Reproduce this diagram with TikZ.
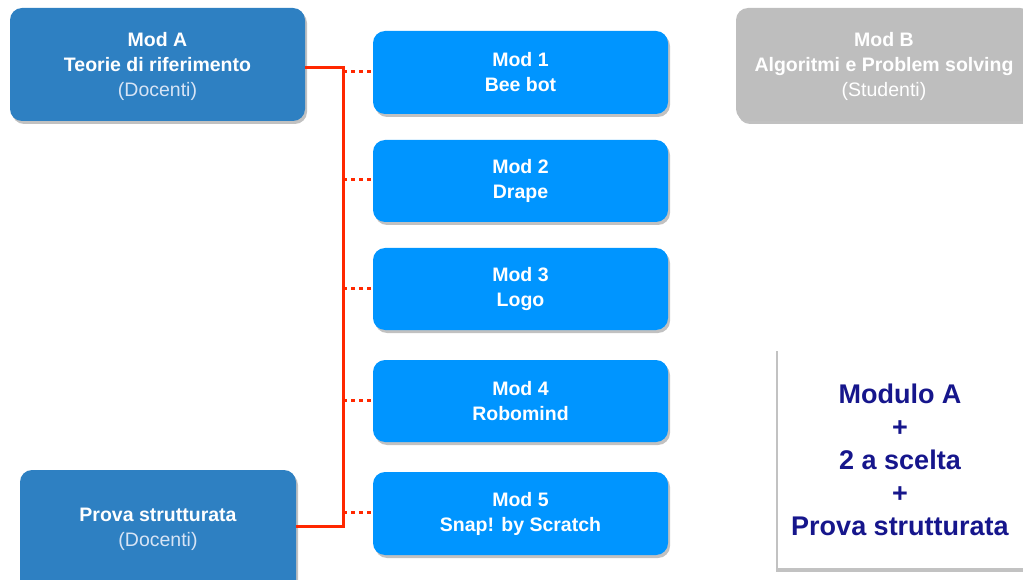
\documentclass[tikz,border=0pt]{standalone}
\usepackage{fontspec}
\setmainfont{Liberation Sans}
\usetikzlibrary{shadows}
\definecolor{modA}{RGB}{46,128,194}
\definecolor{modbright}{RGB}{0,149,255}
\definecolor{modgray}{RGB}{190,190,190}
\definecolor{conred}{RGB}{255,40,0}
\definecolor{navytext}{RGB}{22,22,140}
\definecolor{softtext}{RGB}{215,228,245}
\tikzset{
  box/.style={rounded corners=12pt,
    drop shadow={shadow xshift=2pt, shadow yshift=-3pt, opacity=0.35, fill=black!70}},
  darkbox/.style={box, fill=modA},
  brightbox/.style={box, fill=modbright},
  graybox/.style={box, fill=modgray},
  boxtext/.style={font=\fontsize{19.5}{25}\selectfont\bfseries, text=white, align=center},
  solidcon/.style={draw=conred, line width=3pt},
  dotcon/.style={draw=conred, line width=3pt, dash pattern=on 4pt off 4pt},
}
\newcommand{\soft}[1]{{\mdseries\color{softtext}#1}}
\begin{document}
\begin{tikzpicture}[x=1pt,y=-1pt]
\useasboundingbox (0,0) rectangle (1023,580);
% left column
\path[darkbox] (10,8) rectangle (305,121);
\node[boxtext] (modA) at (157.5,66) {Mod A\\Teorie di riferimento\\\soft{(Docenti)}};
\coordinate (modAe) at (305,68);
\path[darkbox] (20,470) rectangle (296,592);
\node[boxtext] (prova) at (158,529) {Prova strutturata\\\soft{(Docenti)}};
\coordinate (provae) at (296,526);
% middle column
\foreach \i/\t/\b/\txt in {1/31/114/{Mod 1\\Bee bot},2/140/222/{Mod 2\\Drape},3/248/330/{Mod 3\\Logo},4/360/442/{Mod 4\\Robomind},5/472/555/{Mod 5\\Snap! by Scratch}}{
  \path[brightbox] (373,\t) rectangle (668,\b);
  \node[boxtext] (m\i) at (520.5,{(\t+\b)/2}) {\txt};
  \coordinate (m\i w) at (373,{(\t+\b)/2-1});
}
% Mod B
\path[graybox] (736,8) rectangle (1032,121);
\node[boxtext] (modB) at (884,66) {Mod B\\Algoritmi e Problem solving\\{\mdseries (Studenti)}};
% summary box
\path[fill=white, drop shadow={shadow xshift=-2pt, shadow yshift=-4pt, opacity=0.4, fill=black!60}] (778,347) rectangle (1030,568);
\node[font=\fontsize{27}{33}\selectfont\bfseries, text=navytext, align=center] (summary) at (900,460) {Modulo A\\+\\2 a scelta\\+\\Prova strutturata};
% connectors
\coordinate (bus1) at (343,68);
\coordinate (bus2) at (343,526);
\draw[solidcon] (modAe) -- (bus1) -- (bus2) -- (provae);
\foreach \i in {1,...,5}{
  \draw[dotcon] (m\i w -| bus1) -- (m\i w);
}
\end{tikzpicture}
\end{document}
